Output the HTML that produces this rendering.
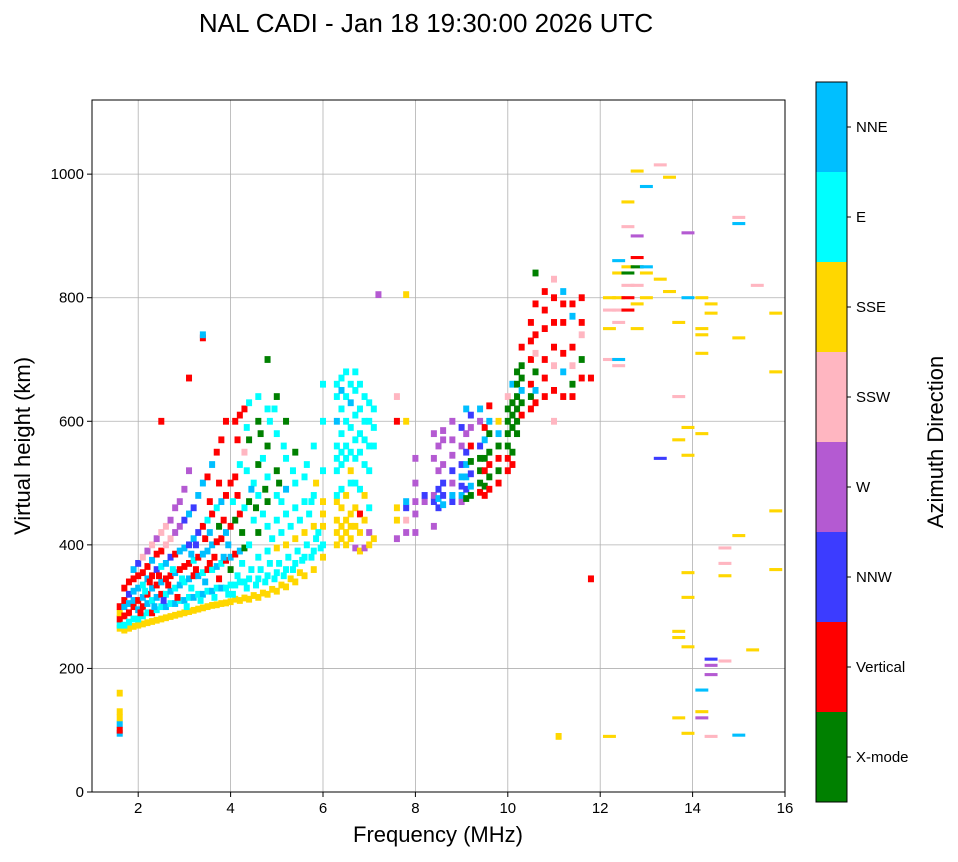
<!DOCTYPE html>
<html><head><meta charset="utf-8"><style>
body{margin:0;background:#fff;font-family:"Liberation Sans",sans-serif}
svg text{font-family:"Liberation Sans",sans-serif}
</style></head><body>
<svg id="chart" width="958" height="857" xmlns="http://www.w3.org/2000/svg">
<text x="426" y="32" font-size="26" text-anchor="middle">NAL CADI - Jan 18 19:30:00 2026 UTC</text>
<g id="grid"></g>
<g id="marks"></g>
<rect x="92" y="100" width="693" height="692" fill="none" stroke="#000" stroke-width="1"/>
<g id="axes"></g>
<text x="438" y="842" font-size="22" text-anchor="middle">Frequency (MHz)</text>
<text transform="translate(30,446) rotate(-90)" font-size="22" text-anchor="middle">Virtual height (km)</text>
<g id="cbar"></g>
<text transform="translate(943,442) rotate(-90)" font-size="22" text-anchor="middle">Azimuth Direction</text>
</svg>
<script>
const directions=["X-mode","Vertical","NNW","W","SSW","SSE","E","NNE"];
const dirColors=["#008000","#ff0000","#3c3cff","#b45ad2","#ffb6c1","#ffd700","#00ffff","#00bfff"];
const xTicks=[2,4,6,8,10,12,14,16];
const yTicks=[0,200,400,600,800,1000];
// [frequency MHz, virtual height km, direction index]
const echoes=[
[1.6,265,5],[1.7,262,5],[1.8,265,5],[1.9,268,5],[2.0,270,5],[2.1,272,5],[2.2,274,5],[2.3,276,5],[2.4,278,5],[2.5,280,5],[2.6,282,5],[2.7,284,5],[2.8,286,5],[2.9,288,5],[3.0,290,5],[3.1,292,5],[3.2,294,5],[3.3,296,5],[3.4,298,5],[3.5,300,5],[3.6,302,5],[3.7,303,5],[3.8,305,5],[3.9,306,5],[4.0,308,5],[4.2,310,5],[4.4,312,5],[4.6,315,5],[4.8,320,5],[5.0,325,5],[5.2,332,5],[5.4,340,5],[5.6,350,5],[5.8,360,5],[6.0,380,5],
[4.1,312,5],[4.3,314,5],[4.5,318,5],[4.7,322,5],[4.9,328,5],[5.1,335,5],[5.3,345,5],[5.5,355,5],
[1.6,270,6],[1.6,280,1],[1.6,290,5],[1.6,300,1],[1.6,130,5],[1.6,110,7],[1.6,95,7],[1.6,100,1],[1.6,120,5],[1.6,160,5],
[1.7,270,6],[1.7,285,1],[1.7,300,7],[1.7,310,1],[1.7,330,1],
[1.8,275,6],[1.8,290,1],[1.8,305,7],[1.8,320,2],[1.8,340,1],
[1.9,280,6],[1.9,300,1],[1.9,310,7],[1.9,325,7],[1.9,345,1],[1.9,360,7],
[2.0,280,6],[2.0,295,7],[2.0,310,1],[2.0,330,7],[2.0,350,1],[2.0,370,2],
[2.1,285,6],[2.1,300,1],[2.1,315,7],[2.1,335,6],[2.1,355,1],[2.1,380,4],
[2.2,290,6],[2.2,305,7],[2.2,320,1],[2.2,345,7],[2.2,365,1],[2.2,390,3],
[2.3,290,1],[2.3,310,6],[2.3,330,7],[2.3,350,1],[2.3,375,7],[2.3,400,4],
[2.4,295,6],[2.4,315,7],[2.4,335,1],[2.4,360,2],[2.4,385,1],[2.4,410,3],
[2.5,300,6],[2.5,320,1],[2.5,340,7],[2.5,365,6],[2.5,390,1],[2.5,420,4],
[2.6,300,7],[2.6,320,6],[2.6,345,1],[2.6,370,7],[2.6,400,4],[2.6,430,4],
[2.7,305,6],[2.7,325,7],[2.7,350,1],[2.7,380,2],[2.7,410,4],[2.7,440,3],
[2.8,305,7],[2.8,330,6],[2.8,355,7],[2.8,385,1],[2.8,420,3],[2.8,460,3],[2.5,600,1],
[2.9,310,6],[2.9,335,7],[2.9,360,1],[2.9,390,7],[2.9,430,3],[2.9,470,3],
[3.0,310,7],[3.0,340,6],[3.0,365,1],[3.0,395,7],[3.0,440,2],[3.0,490,3],
[3.1,315,6],[3.1,345,7],[3.1,370,1],[3.1,400,2],[3.1,450,7],[3.1,520,3],
[3.2,315,7],[3.2,350,1],[3.2,375,6],[3.2,410,7],[3.2,460,2],
[3.3,320,6],[3.3,350,7],[3.3,380,1],[3.3,420,2],[3.3,480,7],[3.1,670,1],
[3.4,320,7],[3.4,355,6],[3.4,385,7],[3.4,430,1],[3.4,500,7],[3.4,735,1],[3.4,740,7],
[3.5,325,6],[3.5,360,1],[3.5,390,7],[3.5,440,6],[3.5,510,1],
[3.6,325,7],[3.6,360,6],[3.6,400,7],[3.6,450,1],[3.6,530,7],
[3.7,330,6],[3.7,365,7],[3.7,405,1],[3.7,460,6],[3.7,550,1],
[3.8,330,7],[3.8,370,6],[3.8,410,1],[3.8,470,7],[3.8,570,1],
[3.9,330,6],[3.9,375,1],[3.9,420,7],[3.9,480,1],[3.9,600,1],
[4.0,335,6],[4.0,380,7],[4.0,430,1],[4.0,500,1],[4.0,360,0],
[4.1,335,6],[4.1,385,1],[4.1,440,0],[4.1,510,1],[4.1,600,1],
[4.2,340,6],[4.2,390,7],[4.2,450,1],[4.2,530,6],[4.2,610,1],
[4.3,340,6],[4.3,395,0],[4.3,460,6],[4.3,550,4],[4.3,620,1],
[4.4,345,6],[4.4,400,6],[4.4,470,0],[4.4,570,0],[4.4,630,6],
[4.6,345,6],[4.6,380,6],[4.6,420,0],[4.6,480,6],[4.6,530,0],[4.6,600,0],[4.6,640,6],
[4.8,350,6],[4.8,390,6],[4.8,430,6],[4.8,470,0],[4.8,510,6],[4.8,560,0],[4.8,620,6],[4.8,700,0],
[5.0,355,6],[5.0,395,5],[5.0,440,6],[5.0,480,6],[5.0,520,0],[5.0,580,6],[5.0,640,0],
[5.2,360,6],[5.2,400,5],[5.2,450,6],[5.2,490,7],[5.2,540,6],[5.2,600,0],
[5.4,370,6],[5.4,410,5],[5.4,460,6],[5.4,500,6],[5.4,550,0],
[5.6,380,6],[5.6,420,5],[5.6,470,6],[5.6,510,6],
[5.8,390,6],[5.8,430,5],[5.8,480,6],[5.8,560,6],
[6.0,400,6],[6.0,430,5],[6.0,470,5],[6.0,520,6],[6.0,600,6],[6.0,660,6],
[6.3,400,5],[6.3,420,5],[6.3,440,5],[6.3,470,5],[6.3,480,6],[6.3,520,6],[6.3,540,6],[6.3,560,6],[6.3,600,7],[6.3,640,6],[6.3,660,6],
[6.4,410,5],[6.4,430,5],[6.4,460,5],[6.4,490,6],[6.4,530,6],[6.4,550,6],[6.4,580,6],[6.4,620,6],[6.4,650,7],[6.4,670,6],
[6.5,400,5],[6.5,420,5],[6.5,440,5],[6.5,480,5],[6.5,540,6],[6.5,560,6],[6.5,600,6],[6.5,640,6],[6.5,680,6],
[6.6,410,5],[6.6,430,5],[6.6,450,5],[6.6,500,6],[6.6,520,5],[6.6,550,6],[6.6,590,6],[6.6,630,7],[6.6,660,6],
[6.7,395,3],[6.7,430,5],[6.7,460,5],[6.7,500,6],[6.7,540,6],[6.7,570,6],[6.7,610,6],[6.7,650,6],[6.7,680,6],
[6.8,390,5],[6.8,420,5],[6.8,450,1],[6.8,490,6],[6.8,550,6],[6.8,580,6],[6.8,620,6],[6.8,660,6],
[6.9,395,3],[6.9,440,5],[6.9,480,5],[6.9,530,6],[6.9,570,6],[6.9,600,6],[6.9,640,6],
[7.0,400,5],[7.0,420,3],[7.0,460,6],[7.0,520,6],[7.0,560,6],[7.0,600,6],[7.0,630,6],
[7.1,410,5],[7.1,560,6],[7.1,590,6],[7.1,620,6],
[7.6,410,3],[7.6,440,5],[7.6,460,5],[7.6,600,1],[7.6,640,4],
[7.8,420,3],[7.8,440,4],[7.8,460,2],[7.8,470,7],[7.8,600,5],
[8.0,420,3],[8.0,450,3],[8.0,470,3],[8.0,500,3],[8.0,540,3],[7.8,805,5],[7.2,805,3],
[8.2,470,3],[8.2,480,2],
[8.4,470,2],[8.4,480,3],[8.4,540,3],[8.4,580,3],[8.4,430,3],
[8.5,460,2],[8.5,475,7],[8.5,490,2],[8.5,520,3],[8.5,560,3],
[8.6,465,7],[8.6,480,2],[8.6,500,2],[8.6,530,3],[8.6,570,3],[8.6,585,3],
[8.8,470,2],[8.8,480,7],[8.8,500,3],[8.8,520,2],[8.8,545,3],[8.8,570,3],[8.8,600,3],
[9.0,470,3],[9.0,480,7],[9.0,495,2],[9.0,510,7],[9.0,530,2],[9.0,560,3],[9.0,590,2],
[9.1,475,0],[9.1,490,2],[9.1,510,7],[9.1,530,7],[9.1,550,2],[9.1,580,3],[9.1,620,7],
[9.2,480,0],[9.2,495,7],[9.2,515,2],[9.2,535,0],[9.2,560,1],[9.2,590,3],[9.2,610,2],
[9.4,485,1],[9.4,500,0],[9.4,520,0],[9.4,540,0],[9.4,560,2],[9.4,600,3],[9.4,620,7],
[9.5,480,1],[9.5,495,0],[9.5,520,1],[9.5,540,0],[9.5,570,7],[9.5,590,1],
[9.6,490,1],[9.6,510,0],[9.6,530,1],[9.6,550,0],[9.6,580,0],[9.6,600,7],[9.6,625,1],
[9.8,500,1],[9.8,520,0],[9.8,540,1],[9.8,560,0],[9.8,580,7],[9.8,600,5],
[10.0,520,1],[10.0,540,1],[10.0,560,0],[10.0,580,0],[10.0,600,0],[10.0,620,0],[10.0,640,4],
[10.1,530,1],[10.1,550,0],[10.1,590,0],[10.1,610,0],[10.1,630,0],[10.1,660,7],
[10.2,580,0],[10.2,600,0],[10.2,620,0],[10.2,640,0],[10.2,660,0],[10.2,680,0],
[10.3,610,1],[10.3,630,0],[10.3,650,7],[10.3,670,0],[10.3,690,0],[10.3,720,1],
[10.5,620,1],[10.5,640,0],[10.5,660,1],[10.5,700,1],[10.5,730,1],[10.5,760,1],
[10.6,630,1],[10.6,650,7],[10.6,680,0],[10.6,710,4],[10.6,740,1],[10.6,790,1],[10.6,840,0],
[10.8,640,1],[10.8,670,1],[10.8,700,1],[10.8,750,1],[10.8,780,1],[10.8,810,1],
[11.0,600,4],[11.0,650,1],[11.0,690,4],[11.0,720,1],[11.0,760,1],[11.0,800,1],[11.0,830,4],
[11.2,640,1],[11.2,680,7],[11.2,710,1],[11.2,760,1],[11.2,790,1],[11.2,810,7],
[11.4,640,1],[11.4,660,0],[11.4,690,4],[11.4,720,1],[11.4,770,7],[11.4,790,1],
[11.6,670,1],[11.6,700,0],[11.6,760,1],[11.6,740,4],[11.6,800,1],
[11.8,345,1],[11.8,670,1],
[12.2,700,4],[12.2,750,5],[12.2,780,4],[12.2,800,5],
[12.4,690,4],[12.4,700,7],[12.4,760,4],[12.4,780,4],[12.4,800,5],[12.4,840,5],[12.4,860,7],
[12.6,780,1],[12.6,800,1],[12.6,820,4],[12.6,840,0],[12.6,850,5],[12.6,955,5],[12.6,915,4],
[12.8,750,5],[12.8,790,5],[12.8,820,4],[12.8,850,0],[12.8,865,1],[12.8,900,3],[12.8,1005,5],
[13.0,800,5],[13.0,840,5],[13.0,850,7],[13.0,980,7],
[13.3,540,2],[13.3,830,5],[13.3,1015,4],
[13.5,810,5],[13.5,995,5],
[13.7,760,5],[13.7,640,4],[13.7,570,5],[13.7,260,5],[13.7,250,5],[13.7,120,5],
[13.9,905,3],[13.9,800,7],[13.9,355,5],[13.9,545,5],[13.9,590,5],[13.9,315,5],[13.9,235,5],[13.9,95,5],
[14.2,800,5],[14.2,750,5],[14.2,740,5],[14.2,710,5],[14.2,580,5],[14.2,165,7],[14.2,130,5],[14.2,120,3],
[14.4,790,5],[14.4,775,5],[14.4,215,2],[14.4,205,3],[14.4,190,3],[14.4,90,4],
[14.7,370,4],[14.7,350,5],[14.7,212,4],[14.7,395,4],
[15.0,930,4],[15.0,920,7],[15.0,735,5],[15.0,415,5],[15.0,92,7],
[15.3,230,5],[15.4,820,4],
[15.8,775,5],[15.8,680,5],[15.8,455,5],[15.8,360,5],
[11.1,90,5],[12.2,90,5],
// fill points of the dense low band
[2.05,290,1],[2.15,325,6],[2.25,340,1],[2.35,300,7],[2.45,350,1],[2.55,310,2],[2.65,335,1],[2.75,360,6],[2.85,315,1],[2.95,345,6],
[3.05,300,6],[3.15,330,6],[3.25,360,1],[3.35,310,6],[3.45,340,7],[3.55,370,1],[3.65,315,6],[3.75,345,1],[3.85,380,7],[3.95,320,6],
[3.15,385,7],[3.25,400,2],[3.45,410,1],[3.55,420,7],[3.65,380,1],[3.75,430,0],[3.85,440,1],[3.95,400,7],[3.55,470,1],[3.75,500,1],
[4.05,320,6],[4.15,350,6],[4.25,370,6],[4.35,330,6],[4.45,360,6],[4.55,335,6],[4.65,360,6],[4.75,340,6],[4.85,370,6],[4.95,345,6],
[5.05,370,6],[5.15,350,6],[5.25,380,6],[5.35,360,6],[5.45,390,6],[5.55,375,6],[5.65,400,6],[5.75,380,6],[5.85,410,6],[5.95,395,6],
[4.5,440,6],[4.7,450,6],[4.9,410,6],[5.1,420,6],[5.3,430,6],[5.5,440,6],[5.7,450,6],[4.5,500,6],[4.7,540,6],[5.1,470,6],
[4.25,420,0],[4.55,460,0],[4.75,490,0],[5.05,500,0],[4.35,520,6],[4.65,580,0],[4.85,600,6],[5.15,560,6],[4.45,490,7],[4.15,480,1],
[4.05,470,6],[4.15,570,1],[4.35,590,6],[4.95,620,6],[5.35,520,6],[5.65,530,6],[5.85,500,5],[6.0,450,5],[5.9,420,6],[5.75,470,6]
];
const NS="http://www.w3.org/2000/svg";
const X0=92,X1=785,Y0=792,Y1=100,FMIN=1,FMAX=16,HMAX=1120;
function xs(f){return X0+(f-FMIN)/(FMAX-FMIN)*(X1-X0);}
function ys(h){return Y0-h/HMAX*(Y0-Y1);}
function mk(tag,attrs,parent){const e=document.createElementNS(NS,tag);for(const k in attrs)e.setAttribute(k,attrs[k]);parent.appendChild(e);return e;}
const grid=document.getElementById('grid'),axes=document.getElementById('axes'),marks=document.getElementById('marks'),cbar=document.getElementById('cbar');
xTicks.forEach(t=>{const x=xs(t);
 if(t<FMAX){const g=mk('line',{x1:x,x2:x,y1:Y0,y2:Y1,stroke:'#b0b0b0','stroke-width':0.8},grid);
 
 }
 mk('line',{x1:x,x2:x,y1:Y0,y2:Y0+5,stroke:'#000'},axes);
 const tx=mk('text',{x:x,y:Y0+21,'font-size':15,'text-anchor':'middle'},axes);tx.textContent=t;
 
 });
yTicks.forEach(t=>{const y=ys(t);
 const g=mk('line',{x1:X0,x2:X1,y1:y,y2:y,stroke:'#b0b0b0','stroke-width':0.8},grid);
 
 
 mk('line',{x1:X0-5,x2:X0,y1:y,y2:y,stroke:'#000'},axes);
 const tx=mk('text',{x:X0-8,y:y+5,'font-size':15,'text-anchor':'end'},axes);tx.textContent=t;
 
 });
const pxMHz=(X1-X0)/(FMAX-FMIN), pxKm=(Y0-Y1)/HMAX;
echoes.forEach(e=>{
 const wide=e[0]>11.9;
 const cw=pxMHz*(wide?0.28:0.13), ch=pxKm*(wide?5:11);
 const r=mk('rect',{x:xs(e[0])-cw/2,y:ys(e[1])-ch/2,width:cw,height:ch,fill:dirColors[e[2]]},marks);
 
 });
const CB0=802,CBH=720,segH=CBH/directions.length;
directions.forEach((d,i)=>{const y=CB0-(i+1)*segH;
 const r=mk('rect',{x:816,y:y,width:31,height:segH,fill:dirColors[i]},cbar);
 
 
 mk('line',{x1:847,x2:851,y1:y+segH/2,y2:y+segH/2,stroke:'#000'},cbar);
 const t=mk('text',{x:856,y:y+segH/2+5,'font-size':15},cbar);t.textContent=d;
 
 });
mk('rect',{x:816,y:CB0-CBH,width:31,height:CBH,fill:'none',stroke:'#000'},cbar);
</script>
</body></html>
